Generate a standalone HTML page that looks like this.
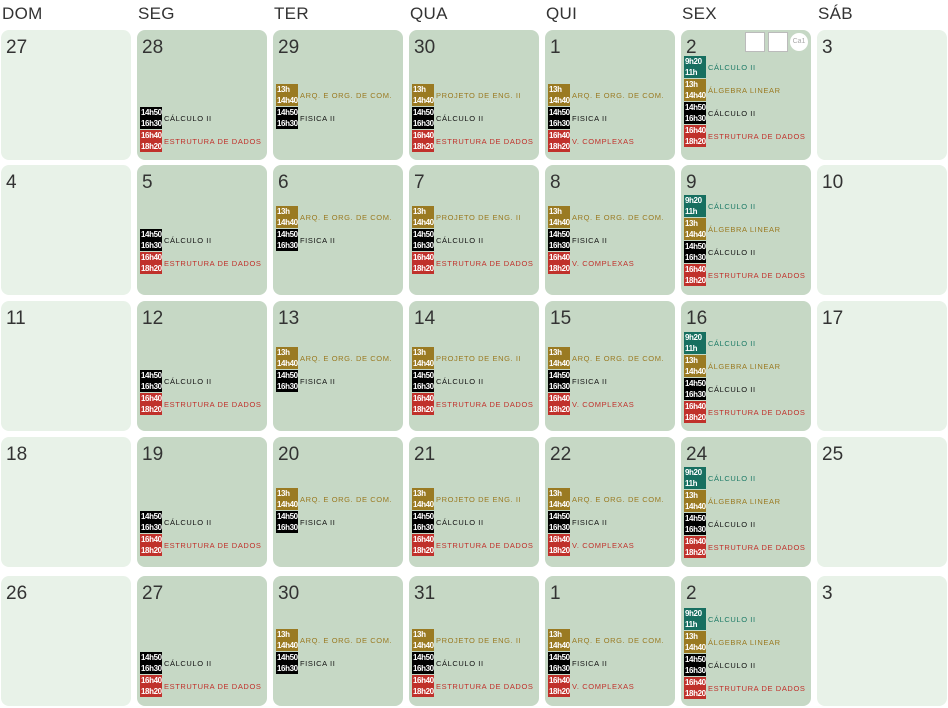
<!DOCTYPE html>
<html><head><meta charset="utf-8">
<style>
body{margin:0;width:948px;height:708px;background:#fff;position:relative;overflow:hidden;font-family:"Liberation Sans",sans-serif;}
.hd{position:absolute;top:4px;font-size:17px;color:#333;letter-spacing:0.3px}
.cell{position:absolute;width:130px;height:130px;border-radius:8px;background:#c6d8c5}
.we{background:#e8f2e8}
.num{position:absolute;left:5px;top:7px;font-size:19px;color:#333}
.ev{position:absolute;left:3px;height:22px;display:flex;align-items:center;white-space:nowrap}
.bd{width:22px;height:22px;font-size:8px;line-height:10.5px;color:#fff;padding-left:1px;box-sizing:border-box;padding-top:1px;letter-spacing:-0.4px;overflow:hidden;font-weight:600}
.tx{font-size:7.5px;letter-spacing:0.6px;margin-left:2px}
.sq{position:absolute;top:2px;width:20px;height:20px;background:#fff;border:1px solid #bbb;box-sizing:border-box}
.ca{position:absolute;top:3px;left:109px;width:18px;height:18px;border-radius:50%;background:#fff;color:#aaa;font-size:7px;text-align:center;line-height:18px}
</style></head><body>
<script>
const heads=["DOM","SEG","TER","QUA","QUI","SEX","SÁB"];
const days=[[27,28,29,30,1,2,3],[4,5,6,7,8,9,10],[11,12,13,14,15,16,17],[18,19,20,21,22,24,25],[26,27,30,31,1,2,3]];
const rowTops=[30,165,301,437,576];
const rowBlackOff=[77,64,69,74,76];
const rowFriOff=[26,30,31,30,32];
const C={g:"#9a7a22",k:"#000",r:"#c0312b",t:"#176f60"};
const TC={g:"#9a7a22",k:"#111",r:"#c0312b",t:"#1c7a66"};
const ev={
1:[[0,"k","14h50","16h30","CÁLCULO II"],[1,"r","16h40","18h20","ESTRUTURA DE DADOS"]],
2:[[-1,"g","13h","14h40","ARQ. E ORG. DE COM."],[0,"k","14h50","16h30","FISICA II"]],
3:[[-1,"g","13h","14h40","PROJETO DE ENG. II"],[0,"k","14h50","16h30","CÁLCULO II"],[1,"r","16h40","18h20","ESTRUTURA DE DADOS"]],
4:[[-1,"g","13h","14h40","ARQ. E ORG. DE COM."],[0,"k","14h50","16h30","FISICA II"],[1,"r","16h40","18h20","V. COMPLEXAS"]],
5:[[0,"t","9h20","11h","CÁLCULO II"],[1,"g","13h","14h40","ÁLGEBRA LINEAR"],[2,"k","14h50","16h30","CÁLCULO II"],[3,"r","16h40","18h20","ESTRUTURA DE DADOS"]]
};
heads.forEach((h,i)=>{const d=document.createElement('div');d.className='hd';d.style.left=(i*136+2)+'px';d.textContent=h;


document.body.appendChild(d);});
days.forEach((row,r)=>row.forEach((n,c)=>{
const cell=document.createElement('div');cell.className='cell'+((c==0||c==6)?' we':'');
cell.style.left=(1+c*136)+'px';cell.style.top=rowTops[r]+'px';


const nm=document.createElement('div');nm.className='num';nm.textContent=n;


cell.appendChild(nm);
(ev[c]||[]).forEach(e=>{
const el=document.createElement('div');el.className='ev';
const top=(c==5)?rowFriOff[r]+e[0]*23:rowBlackOff[r]+e[0]*23;
el.style.top=top+'px';


el.innerHTML='<div class="bd" style="background:'+C[e[1]]+'">'+e[2]+'<br>'+e[3]+'</div><span class="tx" style="color:'+TC[e[1]]+'">'+e[4]+'</span>';
cell.appendChild(el);});
if(r==0&&c==5){
[64,87].forEach(x=>{const s=document.createElement('div');s.className='sq';s.style.left=x+'px';


cell.appendChild(s);});
const ca=document.createElement('div');ca.className='ca';ca.textContent='Ca1';


cell.appendChild(ca);}
document.body.appendChild(cell);}));
</script>
</body></html>
